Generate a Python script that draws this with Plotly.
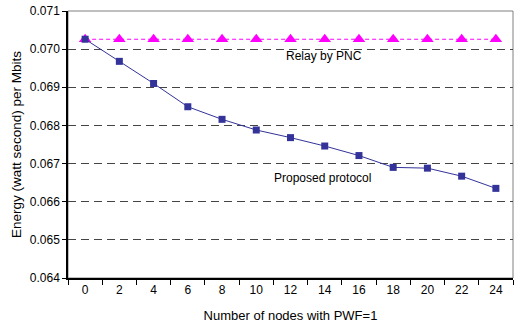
import plotly.graph_objects as go

nodes = ["0", "2", "4", "6", "8", "10", "12", "14", "16", "18", "20", "22", "24"]
proposed = [0.07026, 0.06968, 0.06910, 0.06849, 0.06816, 0.06788, 0.06768,
            0.06746, 0.06721, 0.06690, 0.06688, 0.06667, 0.06635]
relay_pnc = [0.07026] * 13
y_ticks = [0.064, 0.065, 0.066, 0.067, 0.068, 0.069, 0.070, 0.071]

fig = go.Figure()
fig.add_trace(go.Scatter(
    x=nodes, y=relay_pnc, mode="lines+markers", name="Relay by PNC",
    line=dict(color="#FF00FF", width=1.2, dash="4px,3px"),
    marker=dict(symbol="triangle-up", size=11, color="#FF00FF"),
))
fig.add_trace(go.Scatter(
    x=nodes, y=proposed, mode="lines+markers", name="Proposed protocol",
    line=dict(color="#333399", width=1),
    marker=dict(symbol="square", size=7, color="#333399"),
))

fig.add_shape(type="rect", xref="paper", yref="paper", x0=0, x1=1, y0=0, y1=1,
              line=dict(color="#808080", width=1), layer="below")

fig.add_annotation(x=0.575, y=0.06981, xref="paper", yref="y", text="Relay by PNC",
                   showarrow=False, font=dict(size=12, color="#000"))
fig.add_annotation(x=0.573, y=0.06663, xref="paper", yref="y", text="Proposed protocol",
                   showarrow=False, font=dict(size=12, color="#000"))

fig.update_layout(
    width=517, height=328,
    margin=dict(l=68, r=4, t=11, b=50),
    paper_bgcolor="white", plot_bgcolor="white",
    showlegend=False,
    font=dict(family="Liberation Sans, Arial, sans-serif", size=12, color="#000"),
    xaxis=dict(
        type="category", tickson="boundaries", ticks="outside", ticklen=5,
        tickcolor="#000", showline=True, linecolor="#000", linewidth=1.5,
        showgrid=False, zeroline=False, automargin=False,
        tickfont=dict(size=12),
        title=dict(text="Number of nodes with PWF=1", font=dict(size=13), standoff=15),
        range=[-0.5, 12.5],
    ),
    yaxis=dict(
        range=[0.064, 0.071], tickvals=y_ticks, tickformat=".3f",
        ticks="outside", ticklen=4, tickcolor="#000",
        showline=True, linecolor="#000", linewidth=1.5,
        showgrid=True, gridcolor="#444444", gridwidth=1.4, griddash="8px,5px",
        zeroline=False, automargin=False,
        tickfont=dict(size=12),
        title=dict(text="Energy (watt second) per Mbits", font=dict(size=13.5), standoff=5),
    ),
)

fig.write_html("out.html", config={"displayModeBar": False},
               post_script="document.body.style.margin='0';")
